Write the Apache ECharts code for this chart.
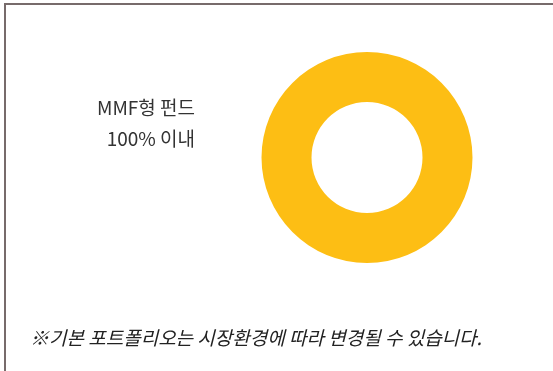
<!DOCTYPE html>
<html>
<head>
<meta charset="utf-8">
<script src="https://cdn.jsdelivr.net/npm/echarts@6/dist/echarts.min.js"></script>
<style>
  html, body { margin: 0; padding: 0; background: #fff; }
  #chart { width: 553px; height: 371px; }
</style>
</head>
<body>
<div id="chart"></div>
<script>
// Portfolio composition: a single fund type taking the whole allocation
const categories = ['MMF형 펀드'];
const shares = [100];
const labelLines = ['MMF형 펀드', '100% 이내'];
const footnote = '※기본 포트폴리오는 시장환경에 따라 변경될 수 있습니다.';

const chart = echarts.init(document.getElementById('chart'), null, { renderer: 'canvas' });
const fontFamily = '"Noto Sans CJK KR", "Noto Sans", sans-serif';

chart.setOption({
  animation: false,
  backgroundColor: '#fff',
  series: [{
    type: 'pie',
    center: [367, 157.5],
    radius: [55.5, 105.5],
    silent: true,
    label: { show: false },
    labelLine: { show: false },
    itemStyle: { color: '#FDBE14' },
    data: categories.map((name, i) => ({ name, value: shares[i] }))
  }],
  graphic: [
    // frame: top and left edges
    { type: 'rect', shape: { x: 4, y: 3, width: 549, height: 2 }, style: { fill: '#776b6b' }, silent: true },
    { type: 'rect', shape: { x: 4, y: 3, width: 2, height: 368 }, style: { fill: '#776b6b' }, silent: true },
    {
      type: 'text', x: 195, y: 123,
      style: {
        text: labelLines.join('\n'), align: 'right', verticalAlign: 'middle',
        font: '19px ' + fontFamily, fill: '#333', lineHeight: 31
      }
    },
    {
      type: 'text', x: 30, y: 338,
      style: {
        text: footnote, align: 'left', verticalAlign: 'middle',
        font: 'italic 19px ' + fontFamily, fill: '#222'
      }
    }
  ]
});
</script>
</body>
</html>
